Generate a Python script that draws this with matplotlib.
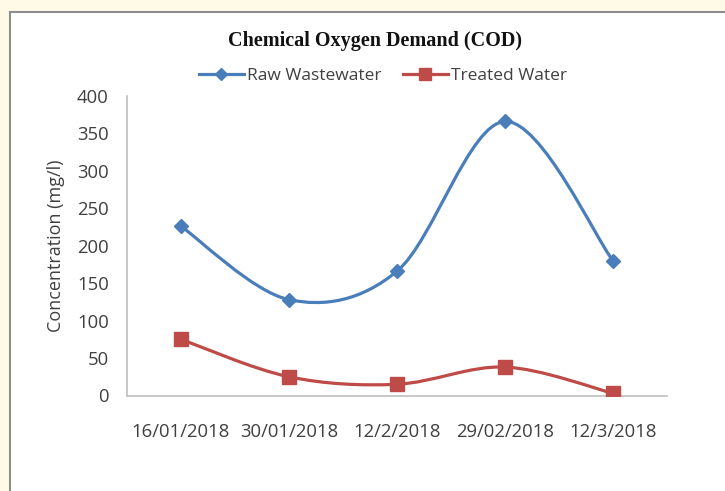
import matplotlib
matplotlib.use("Agg")
import matplotlib.pyplot as plt
from matplotlib.path import Path
from matplotlib.patches import PathPatch, Rectangle
from matplotlib.lines import Line2D
import numpy as np

categories = ["16/01/2018", "30/01/2018", "12/2/2018", "29/02/2018", "12/3/2018"]
raw_wastewater = [226, 128, 166, 366, 180]
treated_water = [75, 25, 15, 38, 3]

blue = "#4A7EBB"
red = "#BE4B48"
txt = "#404040"

fig = plt.figure(figsize=(7.25, 4.91), dpi=100)
fig.patch.set_facecolor("#FFFAE8")
# white chart area with gray border
fig.patches.append(Rectangle((10/725, -0.1), 1.0, 1 - 12/491 + 0.1, transform=fig.transFigure,
                             facecolor="white", edgecolor="#8C8C8C", linewidth=1.5, zorder=-10))

ax = fig.add_axes([127/725, 1 - 395.5/491, 540/725, (395.5 - 96)/491])
ax.set_facecolor("none")
ax.set_zorder(5)

def smooth_path(xs, ys):
    pts = np.column_stack([xs, ys]).astype(float)
    n = len(pts)
    verts = [pts[0]]
    codes = [Path.MOVETO]
    for i in range(n - 1):
        p0 = pts[i - 1] if i > 0 else pts[i]
        p1 = pts[i]
        p2 = pts[i + 1]
        p3 = pts[i + 2] if i + 2 < n else pts[i + 1]
        c1 = p1 + (p2 - p0) / 6.0
        c2 = p2 - (p3 - p1) / 6.0
        verts += [c1, c2, p2]
        codes += [Path.CURVE4] * 3
    return Path(verts, codes)

x = np.arange(len(categories))
for vals, col, mk, ms in [(raw_wastewater, blue, "D", 7), (treated_water, red, "s", 10)]:
    ax.add_patch(PathPatch(smooth_path(x, vals), facecolor="none", edgecolor=col, lw=2.3,
                           capstyle="round", zorder=3))
    ax.plot(x, vals, linestyle="none", marker=mk, markersize=ms, color=col, zorder=4)

ax.set_xlim(-0.5, len(categories) - 0.5)
ax.set_ylim(0, 400)
ax.set_yticks(np.arange(0, 401, 50))
ax.set_xticks(x)
ax.set_xticklabels(categories)
for s in ["top", "right"]:
    ax.spines[s].set_visible(False)
for s in ["left", "bottom"]:
    ax.spines[s].set_color("#BFBFBF")
    ax.spines[s].set_linewidth(1.2)
ax.tick_params(axis="both", length=0, labelsize=13.3, labelcolor=txt)
ax.tick_params(axis="x", pad=20)
ax.tick_params(axis="y", pad=13)
for lab in ax.get_xticklabels() + ax.get_yticklabels():
    lab.set_family("Open Sans")
ax.set_ylabel("Concentration (mg/l)", fontsize=13, color=txt, family="Open Sans", labelpad=9)

fig.text(375/725, 1 - 41/491, "Chemical Oxygen Demand (COD)", ha="center", va="center",
         fontsize=14.5, fontweight="bold", family="Liberation Serif", color="#111111")

handles = [Line2D([], [], color=blue, lw=2.3, marker="D", markersize=6),
           Line2D([], [], color=red, lw=2.3, marker="s", markersize=9)]
fig.legend(handles, ["Raw Wastewater", "Treated Water"], loc="center",
           bbox_to_anchor=(383/725, 1 - 76/491), ncol=2, frameon=False,
           prop={"family": "Open Sans", "size": 12.5}, labelcolor=txt,
           handlelength=2.6, handletextpad=0.2, columnspacing=1.2)

fig.savefig("out.png", dpi=100, facecolor=fig.get_facecolor())
